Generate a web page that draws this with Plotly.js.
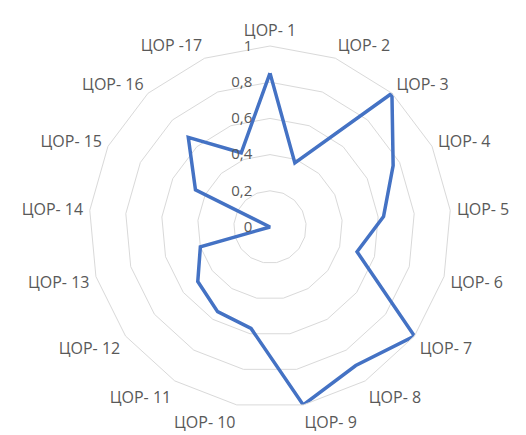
<!DOCTYPE html>
<html>
<head>
<meta charset="utf-8">
<script src="https://cdn.plot.ly/plotly-3.0.1.min.js"></script>
<style>html,body{margin:0;padding:0;background:#fff;}#chart{width:526px;height:435px;}</style>
</head>
<body>
<div id="chart"></div>
<script>
const categories = ["ЦОР- 1","ЦОР- 2","ЦОР- 3","ЦОР- 4","ЦОР- 5","ЦОР- 6","ЦОР- 7","ЦОР- 8","ЦОР- 9","ЦОР- 10","ЦОР- 11","ЦОР- 12","ЦОР- 13","ЦОР- 14","ЦОР- 15","ЦОР- 16","ЦОР -17"];
const values = [0.85, 0.38, 1.0, 0.76, 0.63, 0.5, 1.0, 0.9, 1.0, 0.57, 0.55, 0.5, 0.4, 0.0, 0.46, 0.67, 0.44];
const radialTicks = [0, 0.2, 0.4, 0.6, 0.8, 1];

const trace = {
  type: 'scatterpolar',
  mode: 'lines',
  r: values.concat([values[0]]),
  theta: categories.concat([categories[0]]),
  line: {color: '#4472C4', width: 3.5},
  hoverinfo: 'skip'
};

const gray = '#595959';
const gridColor = '#d9d9d9';
const layout = {
  width: 526, height: 435,
  margin: {l: 0, r: 0, t: 0, b: 0},
  paper_bgcolor: '#fff',
  showlegend: false,
  separators: ', ',
  font: {family: 'Open Sans, Liberation Sans, sans-serif', color: gray, size: 14},
  polar: {
    domain: {x: [89/526, 451/526], y: [27/435, 389/435]},
    bgcolor: '#fff',
    gridshape: 'linear',
    radialaxis: {
      range: [0, 1],
      tickvals: radialTicks,
      tickformat: '.1~f',
      angle: 90,
      tickangle: 90,
      side: 'counterclockwise',
      showline: false,
      ticks: 'outside',
      ticklen: 12,
      tickcolor: 'rgba(0,0,0,0)',
      gridcolor: gridColor,
      gridwidth: 1,
      tickfont: {size: 15, color: gray}
    },
    angularaxis: {
      rotation: 90,
      direction: 'clockwise',
      showgrid: false,
      ticks: 'outside',
      ticklen: 3,
      tickcolor: 'rgba(0,0,0,0)',
      linecolor: gridColor,
      linewidth: 1,
      tickfont: {size: 16, color: gray}
    }
  }
};

Plotly.newPlot('chart', [trace], layout, {displayModeBar: false, staticPlot: true});
</script>
</body>
</html>
